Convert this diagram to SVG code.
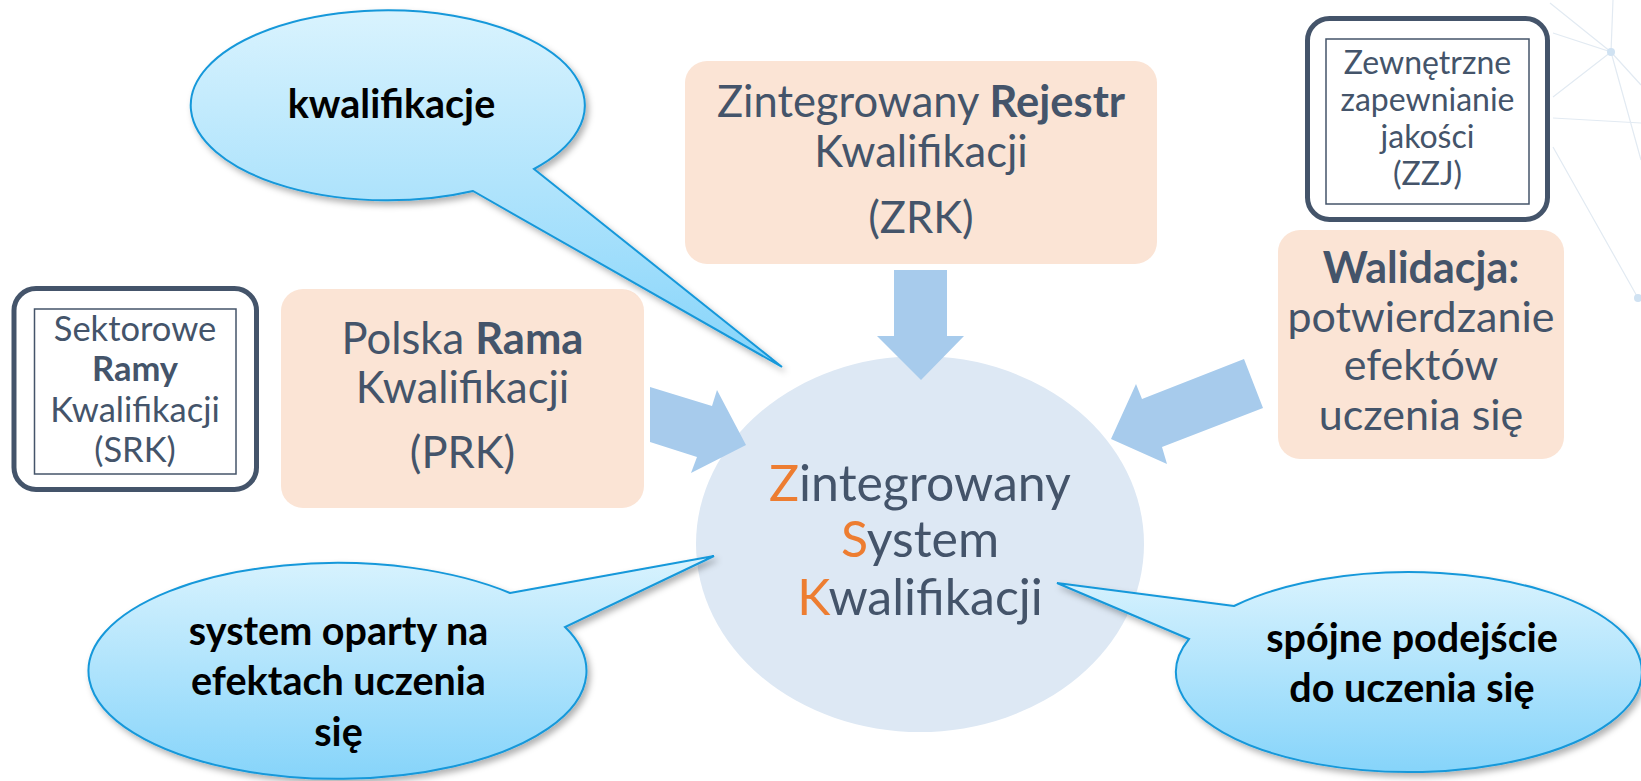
<svg xmlns="http://www.w3.org/2000/svg" width="1641" height="781" viewBox="0 0 1641 781">
<defs>
<style>
.box{fill:#FBE4D5}
.frame{fill:#fff;stroke:#44546A;stroke-width:5}
.inner{fill:#fff;stroke:#44546A;stroke-width:1.5}
.t{font-family:Lato,'Liberation Sans',sans-serif;fill:#44546A;text-anchor:middle}
.b{font-weight:bold}
.o{fill:#ED7D31}
.bt{font-family:Lato,'Liberation Sans',sans-serif;font-weight:bold;fill:#000;text-anchor:middle;font-size:39.5px}
.arrow{fill:#A7CBEC}
.bubble{fill:url(#bg);stroke:#1598DA;stroke-width:2;filter:url(#sh)}
.net{stroke:#E2EAF2;stroke-width:1.2;fill:none}
.dot{fill:#D0E2F2}
</style>
<linearGradient id="bg" x1="0" y1="0" x2="0" y2="1">
<stop offset="0" stop-color="#D9F3FE"/>
<stop offset="1" stop-color="#86D4FA"/>
</linearGradient>
<filter id="sh" x="-10%" y="-10%" width="125%" height="130%">
<feDropShadow dx="3" dy="4" stdDeviation="3" flood-color="#000" flood-opacity="0.3"/>
</filter>
</defs>
<rect width="1641" height="781" fill="#fff"/>
<g id="network">
<path class="net" d="M1550,3 L1611,52 M1553,33 L1611,52 L1553,97 M1553,118 L1641,123 M1553,147 L1638,298 M1611,52 L1641,85 M1613,0 L1611,52 M1611,52 L1641,160"/>
<circle class="dot" cx="1611" cy="52" r="4"/>
<circle class="dot" cx="1638" cy="298" r="4"/>
</g>
<g id="zsk">
<ellipse cx="920" cy="544" rx="224" ry="188" fill="#DDE8F4"/>
<text class="t" font-size="50" x="920" y="501"><tspan class="o">Z</tspan>integrowany</text>
<text class="t" font-size="50" x="920" y="557"><tspan class="o">S</tspan>ystem</text>
<text class="t" font-size="50" x="920" y="615"><tspan class="o">K</tspan>walifikacji</text>
</g>
<g id="connectors">
<polygon class="arrow" points="894,270 947,270 947,336 964,336 921,380 877,336 894,336"/>
<polygon class="arrow" points="650,387 712,406 717,390 746,445 691,473 697,457 650,442"/>
<polygon class="arrow" points="1244,359 1263,408 1162,447 1167,464 1111,439 1136,384 1142,399"/>
</g>
<g id="zrk">
<rect class="box" x="685" y="61" width="472" height="203" rx="22"/>
<text class="t" font-size="43.5" x="921" y="117">Zintegrowany <tspan class="b">Rejestr</tspan></text>
<text class="t" font-size="43.5" x="921" y="167">Kwalifikacji</text>
<text class="t" font-size="43.5" x="921" y="233">(ZRK)</text>
</g>
<g id="prk">
<rect class="box" x="281" y="289" width="363" height="219" rx="22"/>
<text class="t" font-size="43.5" x="462.5" y="354">Polska <tspan class="b">Rama</tspan></text>
<text class="t" font-size="43.5" x="462.5" y="403">Kwalifikacji</text>
<text class="t" font-size="43.5" x="462.5" y="468">(PRK)</text>
</g>
<g id="walidacja">
<rect class="box" x="1278" y="230" width="286" height="229" rx="22"/>
<text class="t b" font-size="43" x="1421" y="283">Walidacja:</text>
<text class="t" font-size="43" x="1421" y="332">potwierdzanie</text>
<text class="t" font-size="43" x="1421" y="380">efektów</text>
<text class="t" font-size="43" x="1421" y="430">uczenia się</text>
</g>
<g id="srk">
<rect class="frame" x="14" y="288.5" width="242.5" height="201" rx="22"/>
<rect class="inner" x="34.5" y="309" width="201.5" height="165"/>
<text class="t" font-size="34.5" x="135" y="341">Sektorowe</text>
<text class="t b" font-size="34.5" x="135" y="381">Ramy</text>
<text class="t" font-size="34.5" x="135" y="421.5">Kwalifikacji</text>
<text class="t" font-size="34.5" x="135" y="462">(SRK)</text>
</g>
<g id="zzj">
<rect class="frame" x="1307.5" y="18.5" width="240" height="201" rx="22"/>
<rect class="inner" x="1326" y="39" width="203" height="165"/>
<text class="t" font-size="32" x="1427.5" y="74">Zewnętrzne</text>
<text class="t" font-size="32" x="1427.5" y="111">zapewnianie</text>
<text class="t" font-size="32" x="1427.5" y="148">jakości</text>
<text class="t" font-size="32" x="1427.5" y="185">(ZZJ)</text>
</g>
<g id="bubble-kwalifikacje">
<path class="bubble" d="M534,169 L782,367 L473,191 A197 95 0 1 1 534,169 Z"/>
<text class="bt" x="391.5" y="118">kwalifikacje</text>
</g>
<g id="bubble-system">
<path class="bubble" d="M510,593 L714,556 L565,627 A249 108 0 1 1 510,593 Z"/>
<text class="bt" x="338.5" y="645">system oparty na</text>
<text class="bt" x="338.5" y="695">efektach uczenia</text>
<text class="bt" x="338.5" y="746">się</text>
</g>
<g id="bubble-spojne">
<path class="bubble" d="M1234,606 L1057,583 L1189,639 A233 100 0 1 0 1234,606 Z"/>
<text class="bt" x="1412" y="652">spójne podejście</text>
<text class="bt" x="1412" y="702">do uczenia się</text>
</g>
</svg>
